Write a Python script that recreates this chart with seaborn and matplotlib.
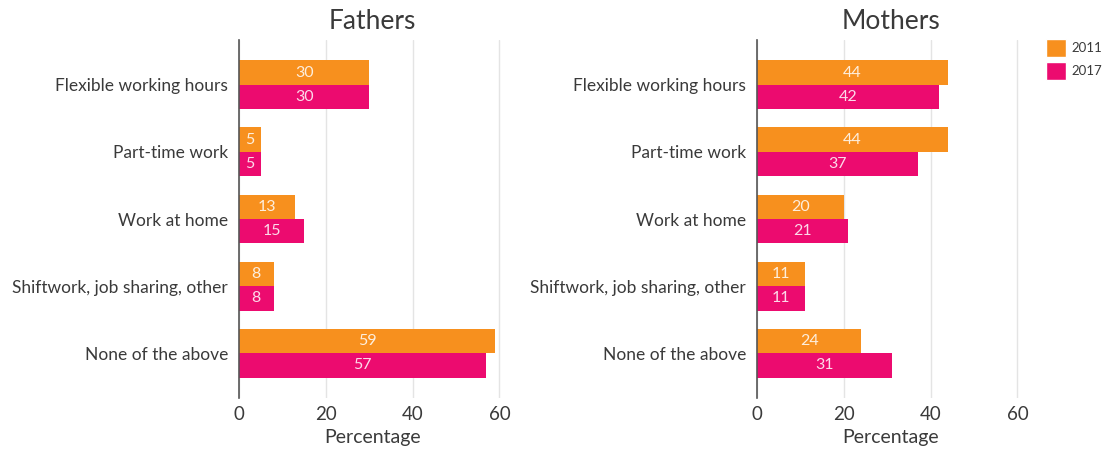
import matplotlib
matplotlib.use("Agg")
import matplotlib.pyplot as plt
import seaborn as sns
import pandas as pd
from matplotlib.patches import Patch

categories = ["Flexible working hours", "Part-time work", "Work at home",
              "Shiftwork, job sharing, other", "None of the above"]
years = ["2011", "2017"]
fathers_2011 = [30, 5, 13, 8, 59]
fathers_2017 = [30, 5, 15, 8, 57]
mothers_2011 = [44, 44, 20, 11, 24]
mothers_2017 = [42, 37, 21, 11, 31]
xticks = [0, 20, 40, 60]

colors = {"2011": "#F7901E", "2017": "#EC0B6F"}

sns.set_theme(style="white")
plt.rcParams['font.family'] = ['Lato', 'DejaVu Sans']
text_color = "#3a3a3a"

def make_df(v11, v17):
    rows = []
    for c, a, b in zip(categories, v11, v17):
        rows.append({"cat": c, "year": "2011", "val": a})
        rows.append({"cat": c, "year": "2017", "val": b})
    return pd.DataFrame(rows)

fig = plt.figure(figsize=(11.07, 4.5), dpi=100)
W, H = 1107, 450
panels = [("Fathers", fathers_2011, fathers_2017, 239),
          ("Mothers", mothers_2011, mothers_2017, 757)]
for title, v11, v17, left in panels:
    ax = fig.add_axes([left / W, 52 / H, 267 / W, 358 / H])
    df = make_df(v11, v17)
    sns.barplot(data=df, y="cat", x="val", hue="year", palette=colors,
                order=categories, hue_order=years, orient="h",
                width=0.73, ax=ax, legend=False, saturation=1, linewidth=0)
    ax.set_xlim(0, 61.5)
    ax.set_ylim(4.67, -0.67)
    ax.set_xticks(xticks)
    ax.xaxis.grid(True, color="#e4e4e4", linewidth=1)
    ax.set_axisbelow(True)
    for s in ["top", "right", "bottom"]:
        ax.spines[s].set_visible(False)
    ax.spines["left"].set_color("#555555")
    ax.spines["left"].set_linewidth(1.2)
    ax.tick_params(axis="both", length=0, colors=text_color)
    ax.tick_params(axis="y", labelsize=12.5, pad=8)
    ax.tick_params(axis="x", labelsize=13.5, pad=6)
    ax.set_ylabel("")
    ax.set_xlabel("Percentage", fontsize=14, color=text_color, labelpad=4)
    ax.set_title(title, fontsize=19, color=text_color, pad=8)
    for cont in ax.containers:
        ax.bar_label(cont, label_type="center", color="white", alpha=0.85,
                     fontsize=11.5)

handles = [Patch(facecolor=colors[y], label=y) for y in years]
fig.legend(handles=handles, loc="upper left", bbox_to_anchor=(1046 / W, 1 - 39 / H),
           frameon=False, fontsize=9.5, handlelength=1.5, handleheight=1.7,
           labelspacing=0.4, handletextpad=0.4, labelcolor=text_color,
           borderpad=0, borderaxespad=0)

fig.savefig("out.png", dpi=100)
